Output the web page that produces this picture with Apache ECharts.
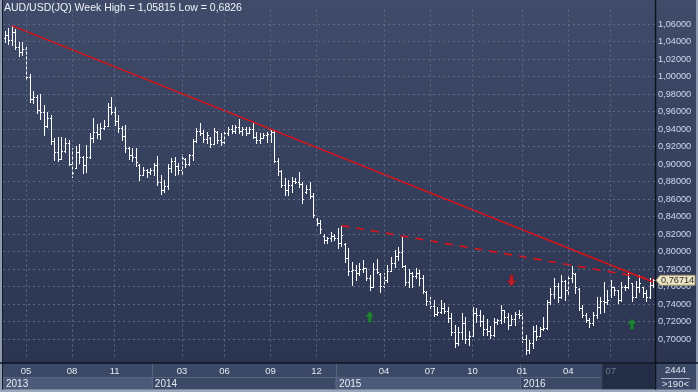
<!DOCTYPE html>
<html><head><meta charset="utf-8">
<script src="https://cdn.jsdelivr.net/npm/echarts@6/dist/echarts.min.js"></script>
<style>html,body{margin:0;padding:0;background:#33405c}#c{width:698px;height:392px}</style>
</head><body><div id="c"></div>
<script>
const startDate = Date.UTC(2013, 2, 22);
const weekCount = 184;
const opens = [1.0440,1.0470,1.0420,1.0510,1.0340,1.0280,1.0310,1.0000,0.9740,0.9770,0.9620,0.9600,0.9440,0.9530,0.9260,0.9140,0.9060,0.9150,0.9240,0.9000,
0.8960,0.9140,0.9080,0.8990,0.9080,0.9300,0.9370,0.9340,0.9410,0.9440,0.9650,0.9600,0.9490,0.9410,0.9320,0.9180,0.9100,0.9080,0.8990,0.8880,
0.8930,0.8910,0.8930,0.8990,0.8800,0.8700,0.8750,0.8960,0.9040,0.8980,0.8930,0.9060,0.9000,0.9100,0.9260,0.9380,0.9360,0.9290,0.9300,0.9230,
0.9370,0.9280,0.9250,0.9350,0.9400,0.9380,0.9420,0.9380,0.9400,0.9360,0.9400,0.9310,0.9280,0.9300,0.9330,0.9340,0.9370,0.9040,0.8920,0.8760,
0.8700,0.8760,0.8810,0.8790,0.8770,0.8680,0.8720,0.8640,0.8370,0.8330,0.8180,0.8130,0.8150,0.8180,0.8150,0.8100,0.8090,0.7930,0.7780,0.7790,
0.7760,0.7800,0.7810,0.7700,0.7600,0.7800,0.7740,0.7610,0.7670,0.7780,0.7870,0.7950,0.7990,0.7830,0.7650,0.7750,0.7720,0.7760,0.7700,0.7535,
0.7440,0.7380,0.7290,0.7310,0.7360,0.7320,0.7240,0.7080,0.6960,0.7080,0.7180,0.7000,0.7040,0.7300,0.7270,0.7210,0.7120,0.7090,0.7050,0.7200,
0.7220,0.7330,0.7250,0.7160,0.7230,0.7290,0.7270,0.7000,0.6870,0.6960,0.7090,0.7040,0.7110,0.7130,0.7420,0.7520,0.7610,0.7480,0.7660,0.7560,
0.7700,0.7740,0.7570,0.7360,0.7280,0.7220,0.7180,0.7280,0.7370,0.7440,0.7420,0.7500,0.7600,0.7560,0.7450,0.7600,0.7590,0.7640,0.7480,0.7600,
0.7590,0.7530,0.7480,0.7620];
const highs = [1.0520,1.0550,1.05815,1.0540,1.0400,1.0400,1.0340,1.0025,0.9830,0.9790,0.9800,0.9670,0.9590,0.9560,0.9300,0.9310,0.9310,0.9300,0.9270,0.9180,
0.9210,0.9230,0.9090,0.9220,0.9350,0.9530,0.9460,0.9470,0.9500,0.9700,0.9770,0.9650,0.9560,0.9440,0.9450,0.9200,0.9180,0.9180,0.8995,0.8970,
0.8940,0.8960,0.9010,0.9090,0.8880,0.8820,0.9000,0.9065,0.9080,0.9010,0.9120,0.9070,0.9120,0.9290,0.9410,0.9465,0.9390,0.9370,0.9312,0.9408,
0.9377,0.9351,0.9370,0.9427,0.9446,0.9446,0.9510,0.9427,0.9427,0.9427,0.9465,0.9370,0.9351,0.9351,0.9370,0.9396,0.9380,0.9065,0.8931,0.8836,
0.8817,0.8855,0.8836,0.8912,0.8798,0.8760,0.8798,0.8665,0.8379,0.8360,0.8200,0.8170,0.8227,0.8200,0.8265,0.8297,0.8100,0.8036,0.7884,0.7850,
0.7865,0.7900,0.7810,0.7730,0.7865,0.7920,0.7751,0.7760,0.7846,0.7940,0.8017,0.8050,0.8162,0.7846,0.7800,0.7770,0.7808,0.7789,0.7732,0.7545,
0.7484,0.7446,0.7370,0.7446,0.7408,0.7370,0.7293,0.7160,0.7140,0.7293,0.7255,0.7090,0.7369,0.7350,0.7330,0.7270,0.7230,0.7150,0.7240,0.7230,
0.7389,0.7330,0.7293,0.7274,0.7312,0.7331,0.7300,0.7046,0.6990,0.7150,0.7160,0.7141,0.7250,0.7446,0.7580,0.7693,0.7640,0.7731,0.7674,0.7731,
0.7830,0.7760,0.7580,0.7388,0.7300,0.7240,0.7312,0.7480,0.7484,0.7655,0.7560,0.7674,0.7600,0.7560,0.7650,0.7617,0.7750,0.7640,0.7660,0.7731,
0.7600,0.7560,0.7700,0.7690];
const lows = [1.0400,1.0370,1.0360,1.0320,1.0230,1.0250,0.9960,0.9710,0.9700,0.9580,0.9520,0.9330,0.9420,0.9230,0.9050,0.9030,0.9060,0.9140,0.8990,0.8850,
0.8950,0.9010,0.8900,0.8910,0.9070,0.9250,0.9300,0.9290,0.9400,0.9430,0.9570,0.9450,0.9370,0.9270,0.9140,0.9060,0.9030,0.8980,0.8820,0.8870,
0.8850,0.8890,0.8880,0.8760,0.8660,0.8680,0.8720,0.8910,0.8880,0.8890,0.8890,0.8970,0.8990,0.9050,0.9255,0.9330,0.9255,0.9236,0.9198,0.9230,
0.9236,0.9217,0.9236,0.9331,0.9351,0.9351,0.9351,0.9331,0.9331,0.9351,0.9293,0.9236,0.9236,0.9293,0.9255,0.9255,0.9027,0.8874,0.8741,0.8646,
0.8646,0.8684,0.8779,0.8741,0.8550,0.8665,0.8608,0.8398,0.8303,0.8208,0.8093,0.8093,0.8120,0.8130,0.8036,0.8060,0.7884,0.7730,0.7617,0.7680,
0.7730,0.7770,0.7675,0.7560,0.7590,0.7750,0.7541,0.7600,0.7650,0.7780,0.7827,0.7900,0.7827,0.7617,0.7600,0.7598,0.7700,0.7617,0.7522,0.7390,
0.7350,0.7260,0.7270,0.7300,0.7300,0.7200,0.7046,0.6912,0.6930,0.7000,0.6950,0.6930,0.7030,0.7200,0.7150,0.7050,0.7050,0.7007,0.7040,0.7170,
0.7180,0.7200,0.7120,0.7160,0.7160,0.7236,0.6970,0.6826,0.6836,0.6900,0.6990,0.7030,0.7100,0.7120,0.7400,0.7465,0.7427,0.7470,0.7446,0.7520,
0.7650,0.7530,0.7330,0.7255,0.7190,0.7141,0.7160,0.7240,0.7300,0.7313,0.7400,0.7484,0.7500,0.7410,0.7430,0.7560,0.7580,0.7430,0.7480,0.7540,
0.7484,0.7440,0.7470,0.7600];
const closes = [1.0470,1.0420,1.0510,1.0340,1.0280,1.0310,1.0000,0.9740,0.9770,0.9620,0.9600,0.9440,0.9530,0.9260,0.9140,0.9060,0.9150,0.9240,0.9000,0.8900,
0.9140,0.9080,0.8990,0.9080,0.9300,0.9370,0.9340,0.9410,0.9440,0.9650,0.9600,0.9490,0.9410,0.9320,0.9180,0.9100,0.9080,0.9020,0.8880,0.8930,
0.8910,0.8930,0.8990,0.8800,0.8700,0.8750,0.8960,0.9040,0.8980,0.8930,0.9070,0.9000,0.9100,0.9260,0.9380,0.9360,0.9290,0.9330,0.9230,0.9380,
0.9280,0.9250,0.9350,0.9400,0.9380,0.9420,0.9380,0.9400,0.9360,0.9400,0.9310,0.9280,0.9300,0.9330,0.9340,0.9370,0.9040,0.8920,0.8760,0.8700,
0.8760,0.8810,0.8790,0.8770,0.8600,0.8720,0.8640,0.8420,0.8330,0.8260,0.8130,0.8150,0.8180,0.8150,0.8100,0.8190,0.7930,0.7780,0.7790,0.7760,
0.7800,0.7810,0.7700,0.7600,0.7800,0.7770,0.7610,0.7670,0.7780,0.7870,0.7950,0.7990,0.7840,0.7650,0.7750,0.7720,0.7760,0.7700,0.7550,0.7440,
0.7380,0.7290,0.7310,0.7360,0.7320,0.7240,0.7080,0.6960,0.7080,0.7180,0.7000,0.7040,0.7300,0.7270,0.7210,0.7120,0.7090,0.7050,0.7200,0.7220,
0.7330,0.7250,0.7160,0.7230,0.7290,0.7270,0.7000,0.6870,0.6960,0.7090,0.7040,0.7110,0.7130,0.7420,0.7520,0.7610,0.7480,0.7660,0.7560,0.7700,
0.7760,0.7600,0.7360,0.7280,0.7220,0.7180,0.7280,0.7370,0.7440,0.7420,0.7450,0.7600,0.7560,0.7450,0.7600,0.7590,0.7700,0.7480,0.7600,0.7640,
0.7530,0.7480,0.7620,0.76714];
const monthTickWeeks = ['2013-05-03','2013-08-02','2013-10-25','2014-03-07','2014-05-30','2014-08-29','2014-11-28','2015-04-10','2015-07-10','2015-10-02','2016-01-08','2016-04-08','2016-07-01'];
const monthTickLabels = ['05','08','11','03','06','09','12','04','07','10','01','04','07'];
const yearStartWeeks = ['2013-03-22','2014-01-10','2015-01-09','2016-01-08'];
const yearLabels = ['2013','2014','2015','2016'];
const currentPeriodStart = '2016-06-17';
const trendSolid = [['2013-04-05', 1.05815], ['2016-09-23', 0.7651]];
const trendDashed = [['2015-01-16', 0.8297], ['2016-09-23', 0.7683]];
const buySignals = [['2015-03-13', 0.7255], ['2016-08-12', 0.7171]];
const sellSignals = [['2015-12-18', 0.7667]];
const titleText = 'AUD/USD(JQ) Week High = 1,05815 Low = 0,6826';
const cornerTop = '2444';
const cornerBottom = '>190<';

const categories = [];
for (let i = 0; i < weekCount; i++) {
  categories.push(new Date(startDate + i * 7 * 86400000).toISOString().slice(0, 10));
}
const ohlc = categories.map((c, i) => [i, opens[i], highs[i], lows[i], closes[i]]);
const fmt = v => v.toFixed(5).replace('.', ',');
const FONT = 'Liberation Sans, Arial, sans-serif';
const gridColor = '#5c6a87';
const arrowPath = 'path://M4,0 L8,4.5 L5.5,4.5 L5.5,9 L2.5,9 L2.5,4.5 L0,4.5 Z';

const chart = echarts.init(document.getElementById('c'), null, {renderer: 'canvas'});
chart.setOption({
  animation: false,
  backgroundColor: '#33405c',
  title: {text: titleText, left: 4, top: 3, padding: 0,
    textStyle: {color: '#eef2f8', fontSize: 10.5, fontWeight: 'normal', fontFamily: FONT}},
  grid: {left: 3, right: 43, top: 6.5, bottom: 35.5},
  xAxis: {
    type: 'category', data: categories, boundaryGap: true,
    axisLine: {show: false}, axisTick: {show: false}, splitLine: {show: false},
    axisLabel: {
      interval: (i, v) => monthTickWeeks.includes(v),
      formatter: v => monthTickLabels[monthTickWeeks.indexOf(v)],
      color: v => (v >= currentPeriodStart ? '#6c788f' : '#e2e8f2'),
      fontSize: 9.5, fontFamily: FONT, margin: 10
    }
  },
  yAxis: {
    type: 'value', position: 'right', min: 0.68, max: 1.08, interval: 0.02,
    axisLine: {show: false}, axisTick: {show: false},
    axisLabel: {formatter: fmt, color: '#cddaf0', fontSize: 9.2, fontFamily: FONT, margin: 3,
      showMinLabel: false, showMaxLabel: false},
    splitLine: {show: true, showMinLine: false, showMaxLine: false,
      lineStyle: {color: gridColor, type: [2, 3], width: 1}}
  },
  series: [
    {type: 'line', data: [], z: 1, silent: true,
      markLine: {silent: true, symbol: 'none', label: {show: false}, animation: false,
        lineStyle: {color: gridColor, type: [2, 3], width: 1},
        data: monthTickWeeks.map(w => ({xAxis: w}))}},
    {type: 'custom', z: 3, silent: true, data: ohlc, encode: {x: 0, y: [1, 2, 3, 4]},
      renderItem: (params, api) => {
        const i = api.value(0);
        const pH = api.coord([i, api.value(2)]);
        const pL = api.coord([i, api.value(3)]);
        const pO = api.coord([i, api.value(1)]);
        const pC = api.coord([i, api.value(4)]);
        const x = Math.round(pH[0]) + 0.5;
        const yo = Math.round(pO[1]) + 0.5, yc = Math.round(pC[1]) + 0.5;
        const st = {stroke: '#ffffff', lineWidth: 1};
        return {type: 'group', children: [
          {type: 'line', shape: {x1: x, y1: Math.round(pH[1]), x2: x, y2: Math.round(pL[1]) + 1}, style: st},
          {type: 'line', shape: {x1: x - 1.5, y1: yo, x2: x, y2: yo}, style: st},
          {type: 'line', shape: {x1: x, y1: yc, x2: x + 1.5, y2: yc}, style: st}
        ]};
      }},
    {type: 'line', data: trendSolid, z: 4, silent: true, symbol: 'none',
      lineStyle: {color: '#d8131b', width: 1.6}},
    {type: 'line', data: trendDashed, z: 4, silent: true, symbol: 'none',
      lineStyle: {color: '#d8131b', width: 1.6, type: [8, 7]}},
    {type: 'scatter', data: buySignals, z: 5, silent: true, symbol: arrowPath, symbolSize: [9, 11],
      itemStyle: {color: '#1d9530', borderColor: '#0f5c1a', borderWidth: 0.5}},
    {type: 'scatter', data: sellSignals, z: 5, silent: true, symbol: arrowPath, symbolSize: [9, 11],
      symbolRotate: 180, itemStyle: {color: '#e3161e', borderColor: '#8a0c10', borderWidth: 0.5}}
  ]
});

// frame / bands, positioned from the axis scale
const cx = c => chart.convertToPixel({xAxisIndex: 0}, c);
const bw = cx(categories[1]) - cx(categories[0]);
const edge = c => cx(c) - bw / 2;
const plotL = edge(categories[0]);
const plotR = edge(categories[weekCount - 1]) + bw;
const bandTop = 363, rowSplit = 377.5, bandBot = 389.5;
const g = [];
g.push({type: 'rect', z: -2, shape: {x: 0, y: 0, width: 698, height: bandTop},
  style: {fill: new echarts.graphic.LinearGradient(0, 0, 0, 1, [{offset: 0, color: '#3f4b69'}, {offset: 1, color: '#2b3551'}])}});
g.push({type: 'rect', z: -2, shape: {x: 0, y: bandTop, width: 698, height: 392 - bandTop}, style: {fill: '#3c4966'}});
yearStartWeeks.forEach((w, k) => {
  const x0 = k === 0 ? plotL : edge(w);
  const x1 = k < yearStartWeeks.length - 1 ? edge(yearStartWeeks[k + 1]) : plotR;
  g.push({type: 'rect', z: -1, shape: {x: x0, y: rowSplit, width: x1 - x0, height: bandBot - rowSplit},
    style: {fill: k % 2 === 0 ? '#4b5a78' : '#3c4966', stroke: '#56647f', lineWidth: 1}});
  if (k > 0) g.push({type: 'line', z: -1, shape: {x1: Math.round(x0) + 0.5, y1: bandTop, x2: Math.round(x0) + 0.5, y2: bandBot},
    style: {stroke: '#56647f', lineWidth: 1}});
  g.push({type: 'text', z: 2, x: x0 + 3, y: 384, style: {text: yearLabels[k], fill: '#e6ecf5', font: '10px ' + FONT, verticalAlign: 'middle'}});
});
const cur0 = edge(currentPeriodStart);
g.push({type: 'rect', z: -1, shape: {x: cur0, y: bandTop, width: plotR - cur0, height: bandBot - bandTop},
  style: {fill: '#232d45', stroke: '#3f4c68', lineWidth: 1}});
// borders
g.push({type: 'rect', z: 10, shape: {x: 0, y: 0, width: 2, height: 392}, style: {fill: '#8e9ab0'}});
g.push({type: 'rect', z: 10, shape: {x: 696, y: 0, width: 2, height: 392}, style: {fill: '#8e9ab0'}});
g.push({type: 'rect', z: 10, shape: {x: 0, y: bandBot, width: 698, height: 392 - bandBot}, style: {fill: '#9aa6b9'}});
g.push({type: 'line', z: 10, shape: {x1: 2.5, y1: 0, x2: 2.5, y2: bandBot}, style: {stroke: '#141a28', lineWidth: 1}});
g.push({type: 'line', z: 10, shape: {x1: 0, y1: bandTop, x2: 698, y2: bandTop}, style: {stroke: '#0e1320', lineWidth: 1.5}});
g.push({type: 'line', z: 10, shape: {x1: plotR + 0.5, y1: 0, x2: plotR + 0.5, y2: bandBot}, style: {stroke: '#0e1320', lineWidth: 1.5}});
// corner box
const cornerX = (plotR + 696) / 2;
g.push({type: 'text', z: 11, x: cornerX, y: 370.5, style: {text: cornerTop, fill: '#dbe4f1', font: '9.5px ' + FONT, align: 'center', verticalAlign: 'middle'}});
g.push({type: 'line', z: 11, shape: {x1: plotR + 6, y1: 378.5, x2: 690, y2: 378.5}, style: {stroke: '#a8b6cb', lineWidth: 1}});
g.push({type: 'text', z: 11, x: cornerX, y: 384.5, style: {text: cornerBottom, fill: '#dbe4f1', font: '9.5px ' + FONT, align: 'center', verticalAlign: 'middle'}});
// last price tag
const lastY = chart.convertToPixel({yAxisIndex: 0}, closes[weekCount - 1]);
g.push({type: 'polygon', z: 12, shape: {points: [[plotR + 1, lastY], [plotR + 5, lastY - 5], [695, lastY - 5], [695, lastY + 5], [plotR + 5, lastY + 5]]},
  style: {fill: '#ece4c3', stroke: '#9d9372', lineWidth: 1}});
g.push({type: 'text', z: 13, x: plotR + 6, y: lastY, style: {text: fmt(closes[weekCount - 1]), fill: '#2c2c2c', font: '9.2px ' + FONT, verticalAlign: 'middle'}});
chart.setOption({graphic: g});
</script></body></html>
